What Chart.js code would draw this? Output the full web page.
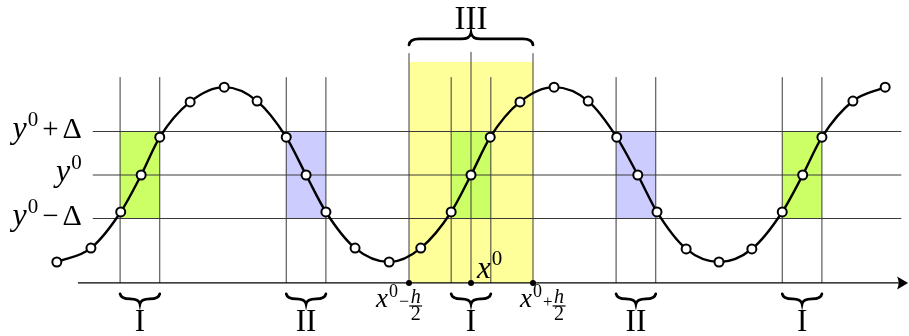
<!DOCTYPE html>
<html>
<head>
<meta charset="utf-8">
<script src="https://cdn.jsdelivr.net/npm/chart.js@4.4.8/dist/chart.umd.min.js"></script>
<style>
  html, body { margin: 0; padding: 0; background: #fff; }
  #wrap { position: relative; width: 909px; height: 336px; }
</style>
</head>
<body>
<div id="wrap"><canvas id="chart"></canvas></div>
<script>
// x is measured in units of h/2 with x0 = 0, y in units of delta with y0 = 0
const curveX = [-6.68, -6.13, -5.65, -5.32, -5.02, -4.53, -3.98, -3.45, -2.98, -2.66, -2.34,
  -1.87, -1.32, -0.81, -0.32, 0, 0.31, 0.79, 1.34, 1.89, 2.35, 2.69, 3.00, 3.47, 4.00,
  4.53, 5.02, 5.35, 5.66, 6.16, 6.68];
const curveY = [-2.0, -1.68, -0.85, 0, 0.87, 1.68, 2.02, 1.70, 0.87, 0, -0.85,
  -1.68, -2.0, -1.68, -0.85, 0, 0.87, 1.68, 2.02, 1.70, 0.87, 0, -0.85, -1.70, -2.0,
  -1.70, -0.85, 0, 0.87, 1.70, 2.02];

const gridY = [1, 0, -1];
const gridXFrom = -6.10;
const gridXTo = 6.94;

const stripX = [-5.66, -5.02, -2.98, -2.34, -0.32, 0.32, 2.34, 2.98, 5.02, 5.66, -1, 0, 1];
const stripTop = [2.25, 2.25, 2.25, 2.25, 2.25, 2.25, 2.25, 2.25, 2.25, 2.25, 2.80, 2.83, 2.80];

const axisY = -2.48;
const axisFrom = -6.34;
const axisTo = 7.05;
const tickX = [-1, 0, 1];

const zoneFrom = [-5.66, -2.98, -0.32, 2.34, 5.02];
const zoneTo = [-5.02, -2.34, 0.32, 2.98, 5.66];
const zoneLabels = ["I", "II", "I", "II", "I"];

const wideFrom = -1;
const wideTo = 1;
const wideTop = 2.60;
const wideBrace = 2.99;
const wideLabel = "III";

const yTicks = [1, 0, -1];
const yTail = ["+\u0394", "", "\u2212\u0394"];

const SERIF = "'Liberation Serif', 'DejaVu Serif', serif";
const ZONE_COLORS = { I: "#ccff66", II: "#ccccff" };

function seg(x1, y1, x2, y2, color, width) {
  return {
    data: [{ x: x1, y: y1 }, { x: x2, y: y2 }],
    showLine: true,
    borderColor: color,
    borderWidth: width,
    pointRadius: 0,
    clip: false,
    order: 2,
  };
}

function brace(ctx, x1, x2, yEnd, depth) {
  const xm = (x1 + x2) / 2;
  const r = Math.min(10, (x2 - x1) / 4);
  const mid = yEnd + depth / 2;
  ctx.beginPath();
  ctx.moveTo(x1, yEnd);
  ctx.quadraticCurveTo(x1 + 1, mid, x1 + r, mid);
  ctx.lineTo(xm - r, mid);
  ctx.quadraticCurveTo(xm - 1, mid, xm, yEnd + depth);
  ctx.quadraticCurveTo(xm + 1, mid, xm + r, mid);
  ctx.lineTo(x2 - r, mid);
  ctx.quadraticCurveTo(x2 - 1, mid, x2, yEnd);
  ctx.stroke();
}

// parts: [text, size, italic, dy, gapAfter]
function mathText(ctx, parts, x, y, align) {
  let total = 0;
  parts.forEach((p) => {
    ctx.font = `${p[2] ? "italic " : ""}${p[1]}px ${SERIF}`;
    total += ctx.measureText(p[0]).width + (p[4] || 0);
  });
  let cx = align === "right" ? x - total : align === "center" ? x - total / 2 : x;
  ctx.textAlign = "left";
  ctx.textBaseline = "alphabetic";
  parts.forEach((p) => {
    ctx.font = `${p[2] ? "italic " : ""}${p[1]}px ${SERIF}`;
    ctx.fillText(p[0], cx, y + (p[3] || 0));
    cx += ctx.measureText(p[0]).width + (p[4] || 0);
  });
  return cx;
}

function fraction(ctx, x, base) {
  ctx.font = `italic 20px ${SERIF}`;
  const wn = ctx.measureText("h").width;
  ctx.font = `20px ${SERIF}`;
  const wd = ctx.measureText("2").width;
  const w = Math.max(wn, wd) + 3;
  ctx.font = `italic 20px ${SERIF}`;
  ctx.fillText("h", x + (w - wn) / 2, base - 4);
  ctx.font = `20px ${SERIF}`;
  ctx.fillText("2", x + (w - wd) / 2, base + 13);
  ctx.fillRect(x, base - 1.5, w, 1.2);
  return x + w;
}

const ink = {
  id: "ink",
  beforeDatasetsDraw(chart) {
    const { ctx, scales: { x, y } } = chart;
    ctx.save();
    ctx.fillStyle = "#ffff99";
    ctx.fillRect(x.getPixelForValue(wideFrom), y.getPixelForValue(wideTop),
      x.getPixelForValue(wideTo) - x.getPixelForValue(wideFrom),
      y.getPixelForValue(axisY) - y.getPixelForValue(wideTop));
    zoneFrom.forEach((v, i) => {
      ctx.fillStyle = ZONE_COLORS[zoneLabels[i]];
      const l = x.getPixelForValue(v);
      const t = y.getPixelForValue(1);
      ctx.fillRect(l, t, x.getPixelForValue(zoneTo[i]) - l, y.getPixelForValue(-1) - t);
    });
    ctx.restore();
  },
  afterDatasetsDraw(chart) {
    const { ctx, scales: { x, y } } = chart;
    const ay = y.getPixelForValue(axisY);
    ctx.save();
    ctx.fillStyle = "#000";
    ctx.strokeStyle = "#000";

    // arrow head
    const tip = x.getPixelForValue(axisTo);
    ctx.beginPath();
    ctx.moveTo(tip, ay);
    ctx.lineTo(tip - 11, ay - 6.5);
    ctx.quadraticCurveTo(tip - 8, ay, tip - 11, ay + 6.5);
    ctx.closePath();
    ctx.fill();

    // braces and roman labels
    ctx.lineWidth = 2.7;
    ctx.lineCap = "round";
    zoneFrom.forEach((v, i) => {
      const l = x.getPixelForValue(v);
      const r = x.getPixelForValue(zoneTo[i]);
      brace(ctx, l, r, ay + 11, 10);
      ctx.font = `31px ${SERIF}`;
      ctx.textAlign = "center";
      ctx.fillText(zoneLabels[i], (l + r) / 2, ay + 48);
    });
    const wl = x.getPixelForValue(wideFrom);
    const wr = x.getPixelForValue(wideTo);
    const wb = y.getPixelForValue(wideBrace);
    brace(ctx, wl, wr, wb, -12);
    ctx.font = `33px ${SERIF}`;
    ctx.textAlign = "center";
    ctx.fillText(wideLabel, (wl + wr) / 2, wb - 16);

    // y labels
    yTicks.forEach((v, i) => {
      const py = y.getPixelForValue(v) + 6;
      const parts = [["y", 32, true, 0, 1], ["0", 21, false, -12, yTail[i] ? 4 : 0]];
      if (yTail[i]) {
        parts.push([yTail[i][0], 29, false, 0, 4]);
        parts.push([yTail[i][1], 30, false, 0, 0]);
      }
      mathText(ctx, parts, x.getPixelForValue(gridXFrom) - 11, py, "right");
    });

    // x tick labels
    const x0 = x.getPixelForValue(tickX[1]);
    mathText(ctx, [["x", 31, true, 0, 1], ["0", 21, false, -13, 0]], x0 + 6, ay - 5, "left");

    const base = ay + 24;
    let cx = mathText(ctx, [["x", 27, true, 0, 1], ["0", 18, false, -10, 1], ["\u2212", 18, false, 0, 0]],
      x.getPixelForValue(tickX[0]) - 33, base, "left");
    fraction(ctx, cx, base);
    cx = mathText(ctx, [["x", 27, true, 0, 1], ["0", 18, false, -10, 1], ["+", 17, false, 0, 0]],
      x.getPixelForValue(tickX[2]) - 13, base, "left");
    fraction(ctx, cx, base);
    ctx.restore();
  },
};

const datasets = [
  {
    data: curveX.map((v, i) => ({ x: v, y: curveY[i] })),
    showLine: true,
    cubicInterpolationMode: "monotone",
    borderColor: "#000",
    borderWidth: 2.4,
    pointRadius: 4.5,
    pointBorderWidth: 2,
    pointBackgroundColor: "#fff",
    pointBorderColor: "#000",
    clip: false,
    order: 0,
  },
  {
    data: tickX.map((v) => ({ x: v, y: axisY })),
    showLine: false,
    pointRadius: 3,
    pointBackgroundColor: "#000",
    pointBorderColor: "#000",
    pointBorderWidth: 0,
    clip: false,
    order: -1,
  },
  seg(axisFrom, axisY, axisTo - 0.15, axisY, "#000", 1.4),
];
gridY.forEach((v) => datasets.push(seg(gridXFrom, v, gridXTo, v, "#3a3a3a", 1)));
stripX.forEach((v, i) => datasets.push(seg(v, axisY, v, stripTop[i], "#3a3a3a", 1)));

new Chart(document.getElementById("chart"), {
  type: "scatter",
  data: { datasets },
  options: {
    responsive: true,
    maintainAspectRatio: false,
    animation: false,
    devicePixelRatio: 1,
    layout: { padding: 0, autoPadding: false },
    plugins: { legend: { display: false }, tooltip: { enabled: false } },
    scales: {
      x: { type: "linear", display: false, min: -471 / 62, max: 438 / 62 },
      y: { type: "linear", display: false, min: -161 / 43.5, max: 175 / 43.5 },
    },
  },
  plugins: [ink],
});
</script>
</body>
</html>
